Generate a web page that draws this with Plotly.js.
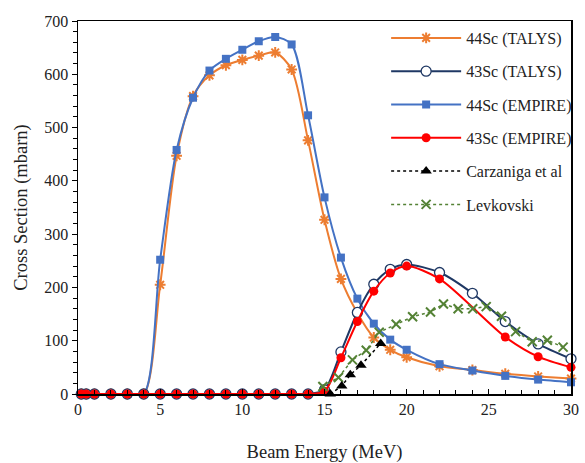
<!DOCTYPE html>
<html>
<head>
<meta charset="utf-8">
<script src="https://cdn.plot.ly/plotly-3.0.1.min.js"></script>
<style>html,body{margin:0;padding:0;background:#fff;}#chart{width:585px;height:463px;}</style>
</head>
<body>
<div id="chart"></div>
<script>
// Beam energies (MeV)
const energyTheory = [0.2,0.5,1,2,3,4,5,6,7,8,9,10,11,12,13,14,15,16,17,18,19,20,22,24,26,28,30];
const energyEmpire43 = [0.2,0.5,1,2,3,4,5,6,7,8,9,10,11,12,13,14,15,16,17,18,19,20,22,26,28,30];
// Cross sections (mbarn)
const sc44Talys  = [0,0,0,0,0,0,205,447,559,598,617,627,635,641,609,476,327,216,152,106,83,69,52,45,38,33,29];
const sc43Talys  = [0,0,0,0,0,0,0,0,0,0,0,0,0,0,0,0,8,79,153,206,234,243,228,189,136,94,66];
const sc44Empire = [0,0,0,0,0,0,252,458,556,607,629,646,662,670,656,523,369,256,179,132,102,83,56,44,34,27,22];
const sc43Empire = [0,0,0,0,0,0,0,0,0,0,0,0,0,0,0,0,5,68,136,193,227,240,216,107,70,50];
const carzanigaE = [15.35,16.05,16.57,17.22,18.42];
const carzanigaXS = [0,15,36,54,95];
const levkovskiE = [14.9,15.85,16.7,17.54,18.33,19.36,20.36,21.45,22.24,23.13,24.02,24.84,25.77,26.63,27.64,28.56,29.52];
const levkovskiXS = [14,31,64,82,116,131,145,154,169,160,160,164,146,117,98,101,88];

const serif = 'Liberation Serif';

const traces = [
  {name:'44Sc (TALYS)', x:energyTheory, y:sc44Talys, mode:'lines+markers', legendrank:1, legendgroup:'a',
   line:{color:'#ED7D31', width:2, shape:'spline', smoothing:0.8},
   marker:{symbol:'asterisk-open', size:9, color:'#ED7D31', line:{color:'#ED7D31', width:2}}},
  {name:'44Sc (EMPIRE)', x:energyTheory, y:sc44Empire, mode:'lines+markers', legendrank:3, legendgroup:'c',
   line:{color:'#4472C4', width:2, shape:'spline', smoothing:0.8},
   marker:{symbol:'square', size:8, color:'#4472C4'}},
  {name:'43Sc (TALYS)', x:energyTheory, y:sc43Talys, mode:'lines+markers', legendrank:2, legendgroup:'b',
   line:{color:'#1F3864', width:2, shape:'spline', smoothing:0.8},
   marker:{symbol:'circle', size:10, color:'#ffffff', line:{color:'#1F3864', width:1.3}}},
  {name:'43Sc (EMPIRE)', x:energyEmpire43, y:sc43Empire, mode:'lines+markers', legendrank:4, legendgroup:'d',
   line:{color:'#FF0000', width:2, shape:'spline', smoothing:0.8},
   marker:{symbol:'circle', size:9, color:'#FF0000'}},
  {name:'Levkovski', x:levkovskiE, y:levkovskiXS, mode:'lines+markers', legendrank:6, legendgroup:'f',
   line:{color:'#548235', width:1.5, dash:'dot'},
   marker:{symbol:'x-thin-open', size:9, color:'#548235', line:{color:'#548235', width:2}}},
  {name:'Carzaniga et al', x:carzanigaE, y:carzanigaXS, mode:'lines+markers', legendrank:5, legendgroup:'e',
   line:{color:'#000000', width:1.5, dash:'dot'},
   marker:{symbol:'triangle-up', size:10, color:'#000000'}}
];

const layout = {
  width:585, height:463,
  margin:{l:78, r:8, t:21, b:69},
  paper_bgcolor:'#fff', plot_bgcolor:'#fff',
  font:{family:serif, size:16, color:'#222'},
  showlegend:true,
  legend:{x:0.625, y:1.0, xanchor:'left', yanchor:'top', bgcolor:'rgba(255,255,255,0)',
          itemwidth:70, traceorder:'grouped', tracegroupgap:9.5},
  xaxis:{range:[0,30], dtick:5, tick0:0, ticks:'inside', ticklen:5, tickwidth:1, tickcolor:'#000',
         showline:true, linecolor:'#000', linewidth:1.5, mirror:true, showgrid:false, zeroline:false,
         minor:{dtick:1, ticks:'inside', ticklen:4, tickcolor:'#000'},
         title:{text:'Beam Energy (MeV)', font:{size:18.5}, standoff:28}},
  yaxis:{range:[0,700], dtick:100, tick0:0, ticks:'outside', ticklen:5, tickwidth:1, tickcolor:'#000',
         showline:true, linecolor:'#000', linewidth:1.5, mirror:true, showgrid:false, zeroline:false,
         minor:{dtick:20, ticks:'outside', ticklen:4, tickcolor:'#000'},
         title:{text:'Cross Section (mbarn)', font:{size:18.5}, standoff:12}}
};

traces.forEach(t => { t.cliponaxis = false; });

Plotly.newPlot('chart', traces, layout, {displayModeBar:false, staticPlot:true});
</script>
</body>
</html>
